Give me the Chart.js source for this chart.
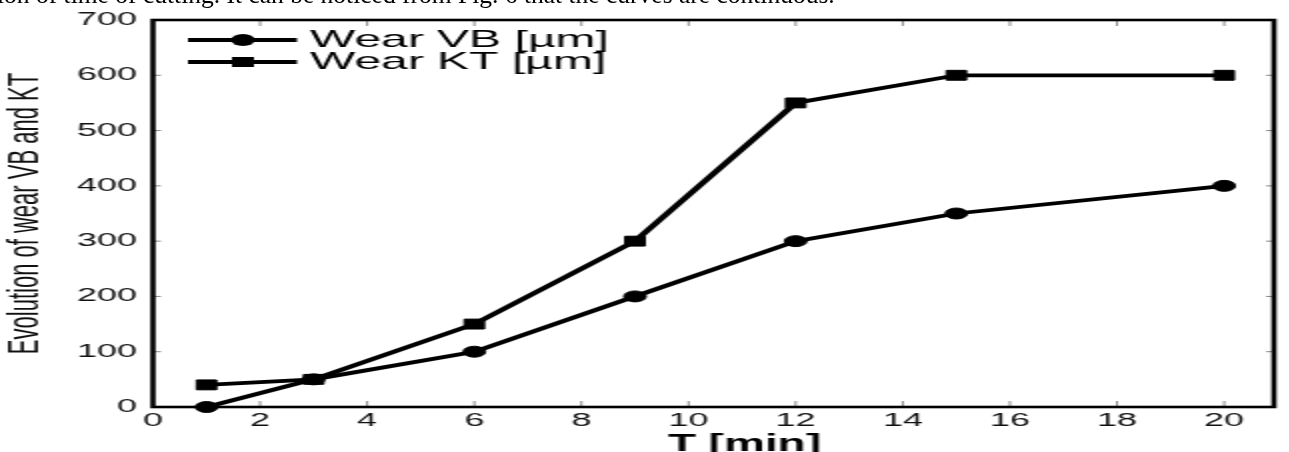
<!DOCTYPE html>
<html><head><meta charset="utf-8">
<script src="https://cdn.jsdelivr.net/npm/chart.js@4.4.1/dist/chart.umd.min.js"></script>
<style>
html,body{margin:0;padding:0;background:#fff;overflow:hidden;width:1289px;height:452px}
#txt{position:absolute;left:-3px;top:-17px;font:25.5px/24px "Liberation Serif","Times New Roman",serif;color:#000;white-space:nowrap;z-index:2}
#wrap{position:absolute;left:0;top:0;width:645px;height:452px;transform:scaleX(2);transform-origin:0 0}
canvas{display:block}
</style></head><body>
<div id="txt">ion of time of cutting. It can be noticed from Fig. 6 that the curves are continuous.</div>
<div id="wrap"><canvas id="c" width="645" height="452"></canvas></div>
<script>
// ---- data ----
const timeMin = [1, 3, 6, 9, 12, 15, 20];
const wearVB  = [0, 50, 100, 200, 300, 350, 400];
const wearKT  = [40, 50, 150, 300, 550, 600, 600];
const xTickValues = [0, 2, 4, 6, 8, 10, 12, 14, 16, 18, 20];
const yTickValues = [0, 100, 200, 300, 400, 500, 600, 700];
const seriesLabels = ['Wear VB [µm]', 'Wear KT [µm]'];
const seriesStyles = ['circle', 'rect'];
const xTitle = 'T [min]';
const yTitle = 'Evolution of wear VB and KT';

const FONT = '"Liberation Sans", Arial, Helvetica, sans-serif';

const framePlugin = {
  id: 'frame',
  afterDraw(chart) {
    const {ctx, chartArea: {left, right, top, bottom}, scales: {x, y}} = chart;
    ctx.save();
    const seg = (x1, y1, x2, y2) => { ctx.beginPath(); ctx.moveTo(x1, y1); ctx.lineTo(x2, y2); ctx.stroke(); };
    // inward tick marks on all four sides
    ctx.strokeStyle = '#8a8a8a'; ctx.lineWidth = 1;
    xTickValues.forEach(v => { const px = x.getPixelForValue(v); seg(px, bottom, px, bottom - 6); seg(px, top, px, top + 6); });
    yTickValues.forEach(v => { const py = y.getPixelForValue(v); seg(left, py, left + 4, py); seg(right, py, right - 4, py); });
    // frame
    ctx.strokeStyle = '#000'; ctx.lineWidth = 2.6;
    ctx.strokeRect(left, top, right - left, bottom - top);
    // legend
    const rows = [40, 62];
    ctx.font = '24px ' + FONT; ctx.textAlign = 'left'; ctx.textBaseline = 'alphabetic'; ctx.fillStyle = '#000';
    chart.data.datasets.forEach((ds, i) => {
      const ry = rows[i];
      ctx.lineWidth = 3.8; ctx.strokeStyle = '#000';
      seg(left + 17.5, ry, left + 72, ry);
      const cx = left + 45;
      ctx.beginPath();
      if (ds.pointStyle === 'circle') { ctx.arc(cx, ry, 6, 0, Math.PI * 2); }
      else { ctx.rect(cx - 5.5, ry - 5, 11, 10); }
      ctx.fill();
      ctx.fillText(ds.label, left + 78.5, ry + 7);
    });
    // x axis title
    ctx.font = 'bold 23px ' + FONT; ctx.textAlign = 'center'; ctx.textBaseline = 'alphabetic';
    ctx.fillText(xTitle, (left + right) / 2 + 15.5, 451);
    ctx.restore();
  }
};

const makeSet = (i, values) => ({
  label: seriesLabels[i],
  data: timeMin.map((t, k) => ({x: t, y: values[k]})),
  borderColor: '#000', backgroundColor: '#000',
  pointBackgroundColor: '#000', pointBorderColor: '#000',
  borderWidth: 3.8, tension: 0, clip: false,
  pointStyle: seriesStyles[i],
  pointRadius: seriesStyles[i] === 'circle' ? 5.5 : 7,
  pointBorderWidth: 1
});

new Chart(document.getElementById('c'), {
  type: 'line',
  data: { datasets: [makeSet(0, wearVB), makeSet(1, wearKT)] },
  options: {
    responsive: false, animation: false, devicePixelRatio: 1,
    layout: { padding: { top: 20, right: 2.5, left: 0, bottom: 0 } },
    plugins: { legend: { display: false }, tooltip: { enabled: false } },
    scales: {
      x: {
        type: 'linear', min: 0, max: 20.93,
        afterBuildTicks: s => { s.ticks = xTickValues.map(v => ({value: v})); },
        afterFit: s => { s.height = 45; },
        border: { display: false },
        grid: { display: false, drawTicks: false },
        ticks: { padding: 3, color: '#111', font: { family: FONT, size: 18 }, maxRotation: 0, autoSkip: false, includeBounds: false }
      },
      y: {
        type: 'linear', min: 0, max: 700,
        afterBuildTicks: s => { s.ticks = yTickValues.map(v => ({value: v})); },
        afterFit: s => { s.width = 76.5; },
        border: { display: false },
        grid: { display: false, drawTicks: false },
        ticks: { padding: 8, color: '#111', font: { family: FONT, size: 18 }, autoSkip: false },
        title: { display: true, text: yTitle, color: '#111', padding: 0, font: { family: FONT, size: 22 } }
      }
    }
  },
  plugins: [framePlugin]
});
</script>
</body></html>
